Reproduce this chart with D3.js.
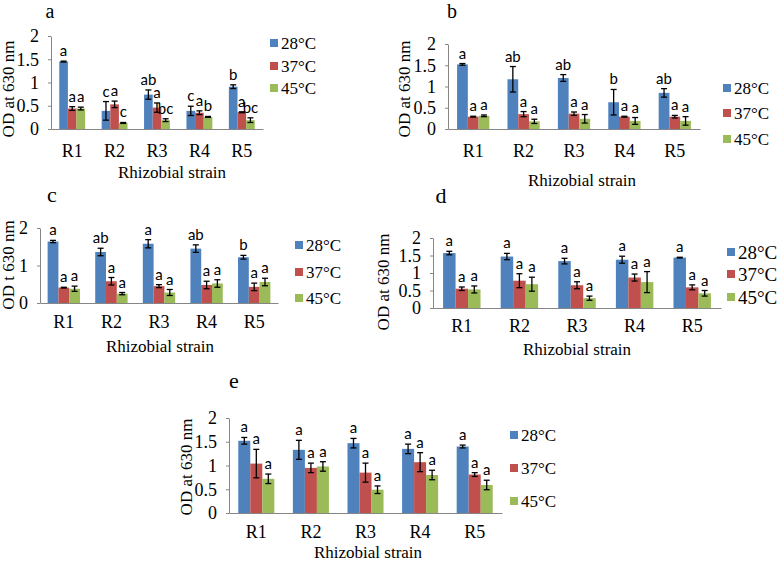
<!DOCTYPE html>
<html>
<head>
<meta charset="utf-8">
<script src="https://cdn.jsdelivr.net/npm/d3@7"></script>
<style>
  html, body { margin: 0; padding: 0; background: #fff; }
  svg { display: block; }
</style>
</head>
<body>
<svg id="chart" width="778" height="562"></svg>
<script>
// ---------------- DATA ----------------
const categories = ["R1", "R2", "R3", "R4", "R5"];
const seriesNames = ["28°C", "37°C", "45°C"];
const seriesColors = ["#4F81BD", "#C0504D", "#9BBB59"];

// Panel a
const aMeans = [[1.45, 0.39, 0.74, 0.39, 0.91], [0.44, 0.53, 0.46, 0.35, 0.36], [0.44, 0.13, 0.19, 0.26, 0.19]];
const aErrors = [[0.01, 0.2, 0.1, 0.1, 0.04], [0.04, 0.07, 0.1, 0.04, 0.01], [0.03, 0.01, 0.03, 0.01, 0.05]];
const aLetters = [["a", "c", "ab", "c", "b"], ["a", "a", "a", "a", "a"], ["a", "c", "bc", "b", "bc"]];
const aTicks = [0, 0.5, 1, 1.5, 2];

// Panel b
const bMeans = [[1.52, 1.17, 1.2, 0.63, 0.85], [0.29, 0.35, 0.36, 0.29, 0.29], [0.31, 0.18, 0.24, 0.19, 0.19]];
const bErrors = [[0.02, 0.3, 0.08, 0.3, 0.1], [0.01, 0.06, 0.04, 0.01, 0.03], [0.02, 0.05, 0.1, 0.08, 0.1]];
const bLetters = [["a", "ab", "ab", "b", "ab"], ["a", "a", "a", "a", "a"], ["a", "a", "a", "a", "a"]];
const bTicks = [0, 0.5, 1, 1.5, 2];

// Panel c
const cMeans = [[1.64, 1.36, 1.58, 1.45, 1.22], [0.41, 0.58, 0.45, 0.48, 0.43], [0.38, 0.25, 0.28, 0.52, 0.56]];
const cErrors = [[0.03, 0.1, 0.11, 0.1, 0.05], [0.01, 0.1, 0.04, 0.1, 0.1], [0.07, 0.03, 0.08, 0.1, 0.1]];
const cLetters = [["a", "ab", "a", "ab", "b"], ["a", "a", "a", "a", "a"], ["a", "a", "a", "a", "a"]];
const cTicks = [0, 1, 2];

// Panel d
const dMeans = [[1.57, 1.47, 1.34, 1.38, 1.44], [0.55, 0.78, 0.65, 0.87, 0.59], [0.53, 0.68, 0.28, 0.74, 0.42]];
const dErrors = [[0.05, 0.09, 0.08, 0.1, 0.01], [0.05, 0.2, 0.1, 0.1, 0.07], [0.1, 0.2, 0.06, 0.3, 0.08]];
const dLetters = [["a", "a", "a", "a", "a"], ["a", "a", "a", "a", "a"], ["a", "a", "a", "a", "a"]];
const dTicks = [0, 0.5, 1, 1.5, 2];

// Panel e
const eMeans = [[1.52, 1.33, 1.47, 1.35, 1.4], [1.04, 0.95, 0.85, 1.07, 0.81], [0.72, 0.98, 0.49, 0.8, 0.59]];
const eErrors = [[0.07, 0.2, 0.1, 0.1, 0.03], [0.3, 0.1, 0.2, 0.2, 0.04], [0.1, 0.1, 0.08, 0.1, 0.1]];
const eLetters = [["a", "a", "a", "a", "a"], ["a", "a", "a", "a", "a"], ["a", "a", "a", "a", "a"]];
const eTicks = [0, 0.5, 1, 1.5, 2];

const xTitle = "Rhizobial strain";

// ---------------- LAYOUT ----------------
const panels = [
  { id: "a", means: aMeans, errors: aErrors, letters: aLetters, ticks: aTicks, yTitle: "OD at 630 nm",
    x0: 51, x1: 263, yTopPx: 36, y0Px: 129, groupFrac: 0.61,
    title: [50, 18, 20], tickLabelY: 157, xTitlePos: [172, 178], yTitlePos: [8, 89],
    legend: { x: 270, ys: [43, 66, 88], font: 17 } },
  { id: "b", means: bMeans, errors: bErrors, letters: bLetters, ticks: bTicks, yTitle: "OD at 630 nm",
    x0: 448, x1: 700, yTopPx: 44, y0Px: 129, groupFrac: 0.64,
    title: [452, 18, 20], tickLabelY: 157, xTitlePos: [582, 186], yTitlePos: [404, 89],
    legend: { x: 723, ys: [88, 113, 139], font: 17 } },
  { id: "c", means: cMeans, errors: cErrors, letters: cLetters, ticks: cTicks, yTitle: "OD t 630 nm",
    x0: 40, x1: 278, yTopPx: 228, y0Px: 303, groupFrac: 0.68,
    title: [52, 202, 22], tickLabelY: 328, xTitlePos: [160, 352], yTitlePos: [8, 265],
    legend: { x: 295, ys: [245, 272, 298], font: 17 } },
  { id: "d", means: dMeans, errors: dErrors, letters: dLetters, ticks: dTicks, yTitle: "OD at 630 nm",
    x0: 433, x1: 721, yTopPx: 238, y0Px: 308, groupFrac: 0.65,
    title: [441, 203, 22], tickLabelY: 332, xTitlePos: [577, 355], yTitlePos: [383, 282],
    legend: { x: 727, ys: [252, 274, 297], font: 19 } },
  { id: "e", means: eMeans, errors: eErrors, letters: eLetters, ticks: eTicks, yTitle: "OD at 630 nm",
    x0: 229, x1: 502, yTopPx: 418, y0Px: 513, groupFrac: 0.66,
    title: [234, 388, 22], tickLabelY: 538, xTitlePos: [368, 558], yTitlePos: [186, 467],
    legend: { x: 510, ys: [435, 468, 501], font: 17 } }
];

const serif = "'Liberation Serif', 'Times New Roman', serif";
const sans = "Lato, Carlito, 'Liberation Sans', sans-serif";
const axisColor = "#868686";

const svg = d3.select("#chart");

panels.forEach(p => {
  const g = svg.append("g").attr("class", "panel-" + p.id);

  const x = d3.scaleBand().domain(categories).range([p.x0, p.x1]).paddingInner(0).paddingOuter(0);
  const bw = x.bandwidth();
  const xs = d3.scaleBand().domain(d3.range(seriesNames.length))
    .range([(1 - p.groupFrac) / 2 * bw, (1 + p.groupFrac) / 2 * bw]).padding(0);
  const y = d3.scaleLinear().domain([0, d3.max(p.ticks)]).range([p.y0Px, p.yTopPx]);

  // panel title letter
  g.append("text").attr("x", p.title[0]).attr("y", p.title[1])
    .attr("text-anchor", "middle").style("font-family", serif).style("font-size", p.title[2] + "px")
    .text(p.id);

  // bars
  seriesNames.forEach((s, si) => {
    const sg = g.append("g");
    categories.forEach((c, ci) => {
      const v = p.means[si][ci];
      sg.append("rect")
        .attr("x", x(c) + xs(si))
        .attr("y", y(v))
        .attr("width", xs.bandwidth())
        .attr("height", y(0) - y(v))
        .attr("fill", seriesColors[si]);
    });
  });

  // y axis
  const yAxis = d3.axisLeft(y).tickValues(p.ticks).tickFormat(d => String(d)).tickSize(3).tickSizeOuter(0).tickPadding(9);
  const ya = g.append("g").attr("transform", `translate(${p.x0},0)`).call(yAxis);
  ya.attr("font-family", null).attr("font-size", null);
  ya.select(".domain").attr("stroke", axisColor);
  ya.selectAll(".tick line").attr("stroke", axisColor);
  ya.selectAll("text").style("font-family", serif).style("font-size", "18px").attr("fill", "#000");

  // x axis
  const xAxis = d3.axisBottom(x).tickSize(0).tickSizeOuter(0);
  const xa = g.append("g").attr("transform", `translate(0,${p.y0Px})`).call(xAxis);
  xa.attr("font-family", null).attr("font-size", null);
  xa.select(".domain").attr("stroke", axisColor);
  xa.selectAll("text").style("font-family", serif).style("font-size", "18px").attr("fill", "#000")
    .attr("dy", null).attr("y", p.tickLabelY - p.y0Px);

  // error bars + letters
  seriesNames.forEach((s, si) => {
    categories.forEach((c, ci) => {
      const v = p.means[si][ci], e = p.errors[si][ci];
      const cx = x(c) + xs(si) + xs.bandwidth() / 2;
      const cap = 3;
      const eg = g.append("g").attr("stroke", "#000").attr("stroke-width", 1.3);
      eg.append("line").attr("x1", cx).attr("x2", cx).attr("y1", y(v - e)).attr("y2", y(v + e));
      eg.append("line").attr("x1", cx - cap).attr("x2", cx + cap).attr("y1", y(v + e)).attr("y2", y(v + e));
      eg.append("line").attr("x1", cx - cap).attr("x2", cx + cap).attr("y1", y(v - e)).attr("y2", y(v - e));
      g.append("text").attr("x", cx).attr("y", y(v + e) - 5)
        .attr("text-anchor", "middle").style("font-family", sans).style("font-size", "15px")
        .text(p.letters[si][ci]);
    });
  });

  // axis titles
  g.append("text").attr("x", p.xTitlePos[0]).attr("y", p.xTitlePos[1])
    .attr("text-anchor", "middle").style("font-family", serif).style("font-size", "17px")
    .text(xTitle);
  g.append("text")
    .attr("transform", `translate(${p.yTitlePos[0]},${p.yTitlePos[1]}) rotate(-90)`)
    .attr("text-anchor", "middle").attr("dominant-baseline", "central")
    .style("font-family", serif).style("font-size", "17px")
    .text(p.yTitle);

  // legend
  const lg = g.append("g");
  seriesNames.forEach((s, si) => {
    const ly = p.legend.ys[si];
    lg.append("rect").attr("x", p.legend.x).attr("y", ly - 4).attr("width", 8).attr("height", 8)
      .attr("fill", seriesColors[si]);
    lg.append("text").attr("x", p.legend.x + 11).attr("y", ly)
      .attr("dominant-baseline", "central").style("font-family", serif).style("font-size", p.legend.font + "px")
      .text(s);
  });
});
</script>
</body>
</html>
